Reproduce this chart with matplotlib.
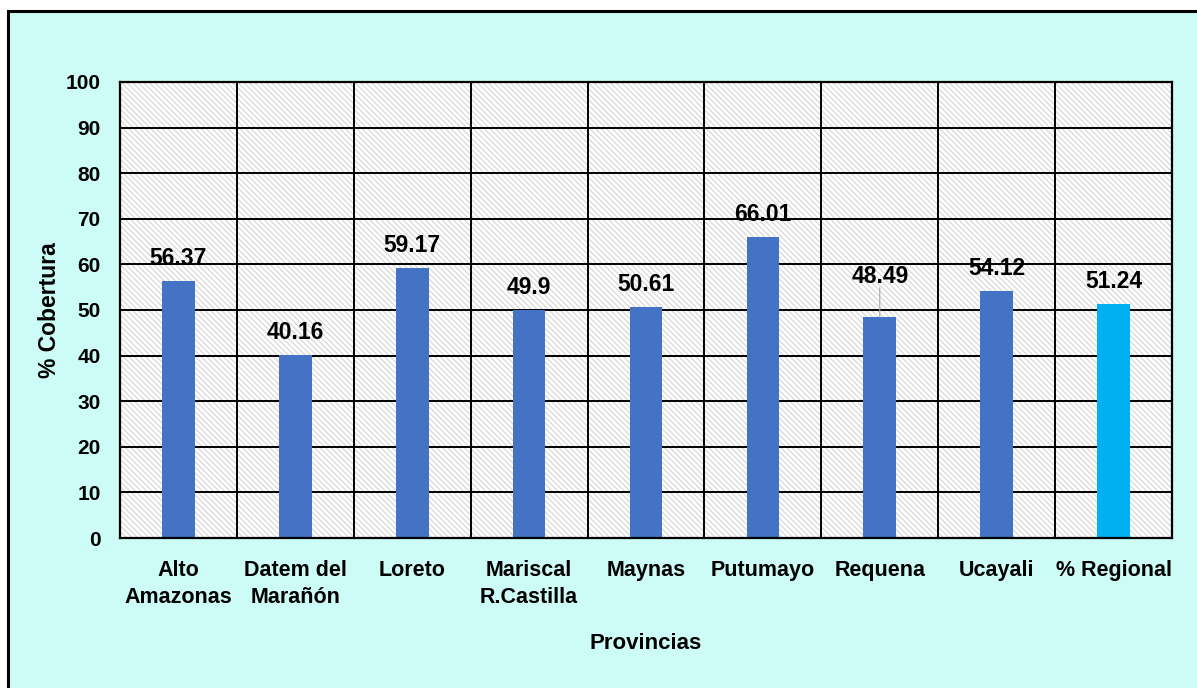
import matplotlib.pyplot as plt
from matplotlib.patches import Rectangle

# data
provincias = ["Alto\nAmazonas", "Datem del\nMarañón", "Loreto", "Mariscal\nR.Castilla",
              "Maynas", "Putumayo", "Requena", "Ucayali", "% Regional"]
cobertura = [56.37, 40.16, 59.17, 49.9, 50.61, 66.01, 48.49, 54.12, 51.24]
colores = ["#4472C4"] * 8 + ["#00B0F0"]

plt.rcParams['font.family'] = ['Liberation Sans', 'DejaVu Sans']
plt.rcParams['font.weight'] = 'bold'
plt.rcParams['hatch.color'] = '#D4D4D4'
plt.rcParams['hatch.linewidth'] = 0.8

fig = plt.figure(figsize=(11.97, 6.88), dpi=100)
fig.patch.set_facecolor('white')
# outer chart border with cyan fill
fig.patches.append(Rectangle((8 / 1197, -0.01), 1.0, 1.01 - 11 / 688, transform=fig.transFigure,
                             facecolor='#CCFCF5', edgecolor='black', linewidth=2.2, zorder=-1))

ax = fig.add_axes([120 / 1197, 1 - 538 / 688, 1052 / 1197, 456 / 688])
ax.set_zorder(2)
ax.set_facecolor('white')
ax.add_patch(Rectangle((0, 0), 1, 1, transform=ax.transAxes, facecolor='white',
                       hatch='\\' * 6, edgecolor='#D4D4D4', linewidth=0, zorder=0))

x = list(range(len(provincias)))
bars = ax.bar(x, cobertura, width=0.28, color=colores, zorder=3)

ax.set_xlim(-0.5, len(provincias) - 0.5)
ax.set_ylim(0, 100)
ax.set_yticks(range(0, 101, 10))
ax.set_xticks(x)
ax.set_xticklabels(provincias, fontsize=15.5, fontweight='bold', linespacing=1.35)
ax.set_xticks([i + 0.5 for i in x[:-1]], minor=True)
ax.tick_params(axis='y', length=0, pad=14, labelsize=15)
ax.tick_params(axis='x', which='both', length=0, pad=16)
ax.grid(axis='y', color='black', linewidth=1.4, zorder=1)
ax.grid(axis='x', which='minor', color='black', linewidth=1.4, zorder=1)
ax.grid(axis='x', which='major', visible=False)
for s in ax.spines.values():
    s.set_linewidth(1.6)
    s.set_zorder(4)

for i, v in enumerate(cobertura):
    off = 21 if provincias[i] == "Requena" else 8
    ax.annotate(f"{v:g}", (i, v), xytext=(0, off), textcoords='offset points',
                ha='center', va='bottom', fontsize=16.5, fontweight='bold', zorder=5)
    if provincias[i] == "Requena":
        ax.annotate("", (i, v), xytext=(0, off), textcoords='offset points',
                    arrowprops=dict(arrowstyle='-', color='#A6A6A6', lw=0.8,
                                    shrinkA=0, shrinkB=0), zorder=5)

ax.set_ylabel("% Cobertura", fontsize=16.5, fontweight='bold', labelpad=3)
ax.set_xlabel("Provincias", fontsize=16, fontweight='bold', labelpad=18)

fig.savefig("out.png", dpi=100)
